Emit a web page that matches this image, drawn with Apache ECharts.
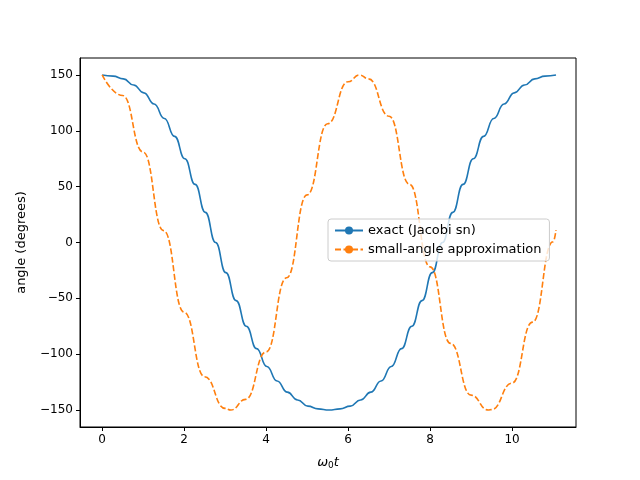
<!DOCTYPE html>
<html><head><meta charset="utf-8">
<script src="https://cdn.jsdelivr.net/npm/echarts@6/dist/echarts.min.js"></script>
<style>html,body{margin:0;padding:0;background:#fff}#c{width:640px;height:480px}</style>
</head><body><div id="c"></div>
<script>
const exactT = [0,0.268,0.518,0.768,1.018,1.268,1.518,1.768,2.018,2.268,2.518,2.768,3.018,3.268,3.518,3.768,4.018,4.268,4.518,4.768,5.018,5.268,5.536,5.804,6.054,6.304,6.554,6.804,7.054,7.304,7.554,7.804,8.054,8.304,8.554,8.804,9.054,9.304,9.554,9.804,10.054,10.304,10.554,10.804,11.072];
const exactV = [150,149,146.5,141,134,124,111,95,75,52,27,0,-27,-52,-75,-95,-111,-124,-134,-141,-146.5,-149,-150,-149,-146.5,-141,-134,-124,-111,-95,-75,-52,-27,0,27,52,75,95,111,124,134,141,146.5,149,150];
const smallT = [0,0.5,1,1.5,2,2.5,3,3.14,3.5,4,4.5,5,5.5,6,6.28,6.5,7,7.5,8,8.5,9,9.42,9.5,10,10.5,11,11.072];
const smallV = [150,131.6,81.0,10.6,-62.4,-120.2,-148.5,-150,-140.5,-98.0,-31.6,42.6,106.3,144.0,150,146.5,113.1,52.0,-21.8,-90.3,-136.7,-150,-149.6,-125.9,-71.3,0.7,11.1];
const xTicks = [0,2,4,6,8,10];
const yTicks = [-150,-100,-50,0,50,100,150];
const font = 'DejaVu Sans';
const chart = echarts.init(document.getElementById('c'));
chart.setOption({
  animation:false,
  textStyle:{fontFamily:font},
  grid:{left:80,top:58,width:496,height:369,show:true,borderColor:'#000',borderWidth:1,backgroundColor:'transparent'},
  xAxis:{type:'value',min:-0.54,max:11.56,
    axisLine:{show:true,onZero:false,lineStyle:{color:'#000'}},splitLine:{show:false},
    axisTick:{show:true,customValues:xTicks,length:4,lineStyle:{color:'#000'}},
    axisLabel:{customValues:xTicks,color:'#000',fontSize:12,fontFamily:font,margin:7},
    name:'{i|ω}{s|0}{i|t}',nameLocation:'middle',nameGap:28,
    nameTextStyle:{rich:{i:{fontStyle:'italic',fontSize:13,fontFamily:font,color:'#000'},s:{fontSize:9,fontFamily:font,color:'#000',verticalAlign:'bottom',padding:[6,0,0,0]}}}},
  yAxis:{type:'value',min:-165.2,max:165.2,
    axisLine:{show:true,onZero:false,lineStyle:{color:'#000'}},splitLine:{show:false},
    axisTick:{show:true,customValues:yTicks,length:4,lineStyle:{color:'#000'}},
    axisLabel:{customValues:yTicks,color:'#000',fontSize:12,fontFamily:font,margin:7,formatter:v=>v<0?'\u2212'+(-v):''+v},
    name:'angle (degrees)',nameLocation:'middle',nameGap:52,nameTextStyle:{fontSize:13,color:'#000',fontFamily:font}},
  legend:{orient:'vertical',left:328,top:219,itemWidth:28,itemHeight:10,itemGap:6,
    backgroundColor:'rgba(255,255,255,0.8)',borderColor:'#ccc',borderWidth:1,borderRadius:3,padding:[5,8,5,6],
    textStyle:{fontSize:13,color:'#000',fontFamily:font},
    data:['exact (Jacobi sn)','small-angle approximation']},
  series:[
    {name:'exact (Jacobi sn)',type:'line',smooth:0.5,smoothMonotone:'x',symbol:'none',color:'#1f77b4',lineStyle:{width:1.6,color:'#1f77b4'},
     data:exactT.map((t,i)=>[t,exactV[i]])},
    {name:'small-angle approximation',type:'line',smooth:0.5,smoothMonotone:'x',symbol:'none',color:'#ff7f0e',lineStyle:{width:1.6,type:[6,2.5],color:'#ff7f0e'},
     data:smallT.map((t,i)=>[t,smallV[i]])}
  ]
});
</script></body></html>
